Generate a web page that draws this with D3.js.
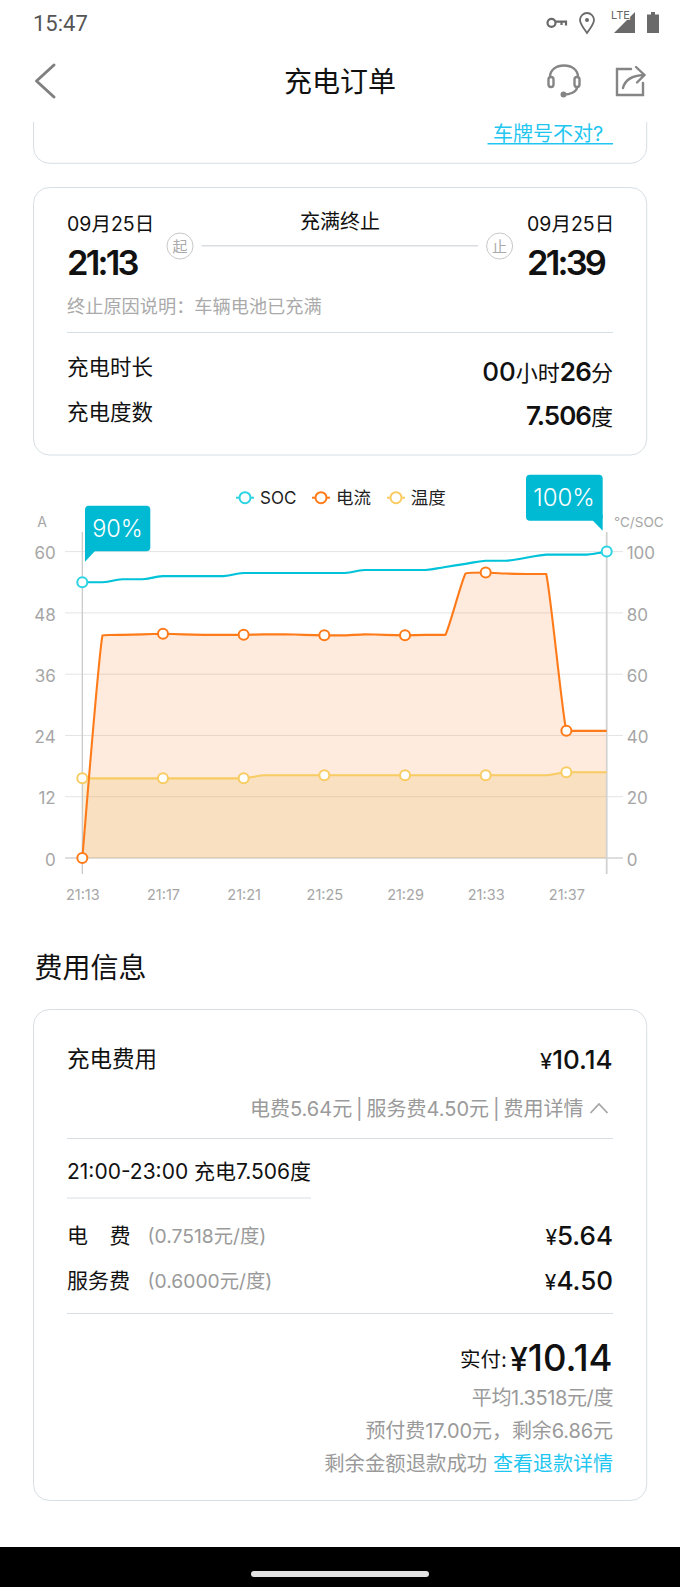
<!DOCTYPE html>
<html lang="zh"><head><meta charset="utf-8">
<script src="https://cdn.jsdelivr.net/npm/d3@7/dist/d3.min.js"></script>
<style>html,body{margin:0;padding:0;background:#fff;overflow:hidden}svg{display:block}
text{font-family:"Inter","Noto Sans CJK SC",sans-serif}</style></head><body>
<script>
// ---- chart data, one value per minute from 21:13 to 21:39 ----
const minutes = ['21:13','21:14','21:15','21:16','21:17','21:18','21:19','21:20','21:21','21:22','21:23','21:24','21:25','21:26','21:27','21:28','21:29','21:30','21:31','21:32','21:33','21:34','21:35','21:36','21:37','21:38','21:39'];
const current = [0,43.6,43.7,43.8,43.9,43.8,43.7,43.7,43.7,43.8,43.8,43.7,43.6,43.6,43.8,43.7,43.6,43.7,43.7,55.7,55.9,55.7,55.6,55.6,24.9,24.9,24.9];
const temperature = [26,26,26,26,26,26,26,26,26,27,27,27,27,27,27,27,27,27,27,27,27,27,27,27,28,28,28];
const soc = [90,90,91,91,92,92,92,92,93,93,93,93,93,93,94,94,94,94,95,96,97,97,98,99,99,99,100];
const xTickLabels = ['21:13','21:17','21:21','21:25','21:29','21:33','21:37'];
const leftTicks = [0,12,24,36,48,60];
const rightTicks = [0,20,40,60,80,100];
const legendNames = ['SOC','电流','温度'];
const socBadges = ['90%','100%'];

const svg = d3.select('body').append('svg').attr('width',680).attr('height',1587).attr('viewBox','0 0 680 1587');
const GREY='#9a9a9a', LINE='#d6dfe4', BLUE='#1fc6f0';

function txt(x,y,anchor,parts,spacing){
  const t=svg.append('text').attr('x',x).attr('y',y).attr('text-anchor',anchor);
  parts.forEach(p=>{
    const s=t.append('tspan').text(p[0]).attr('font-size',p[1]).attr('font-weight',p[2]||400).attr('fill',p[3]||'#111');
    if(p[4]!==undefined) s.attr('letter-spacing',p[4]);
  });
  if(spacing) t.attr('letter-spacing',spacing);
  return t;
}
function hline(x1,x2,y){svg.append('line').attr('x1',x1).attr('x2',x2).attr('y1',y).attr('y2',y).attr('stroke',LINE).attr('stroke-width',1);}
function card(y1,y2){svg.append('rect').attr('x',33.5).attr('y',y1).attr('width',613.2).attr('height',y2-y1).attr('rx',16).attr('fill','#fff').attr('stroke',LINE).attr('stroke-width',1);}

// ---- status bar ----
txt(33,31,'start',[['15:47',22,400,'#555']]).attr('style','font-family:Roboto');
const ic=svg.append('g').attr('fill','none').attr('stroke','#6a6a6a');
ic.append('circle').attr('cx',551.5).attr('cy',22.8).attr('r',4).attr('stroke-width',2.2);
ic.append('path').attr('d','M555.5 21.6H566V25.5M561.5 22V25').attr('stroke-width',2.2);
ic.append('path').attr('d','M587 33C583 27 580 24 580 20A7 7 0 0 1 594 20C594 24 591 27 587 33Z').attr('stroke-width',1.8);
ic.append('circle').attr('cx',587).attr('cy',20).attr('r',2).attr('fill','#6a6a6a').attr('stroke','none');
svg.append('path').attr('d','M635 12V33H614Z').attr('fill','#6a6a6a');
txt(611,18.5,'start',[['LTE',11,400,'#666']]).attr('stroke','#fff').attr('stroke-width',1.5).attr('paint-order','stroke');
svg.append('path').attr('d','M651 12H655V14.5H659V33H647V14.5H651Z').attr('fill','#6a6a6a');

// ---- nav bar ----
svg.append('path').attr('d','M54 65L36.5 81L54 97').attr('fill','none').attr('stroke','#808080').attr('stroke-width',3).attr('stroke-linejoin','round').attr('stroke-linecap','round');
txt(340,92,'middle',[['充电订单',28,400,'#111']]);
const nav=svg.append('g').attr('fill','none').attr('stroke','#858585').attr('stroke-width',2.4).attr('stroke-linecap','round');
nav.append('path').attr('d','M550 77C550 70 556 65.5 564 65.5C572 65.5 578 70 578 77');
nav.append('rect').attr('x',548.5).attr('y',77).attr('width',5).attr('height',10).attr('rx',2.5);
nav.append('rect').attr('x',574.5).attr('y',77).attr('width',5).attr('height',10).attr('rx',2.5);
nav.append('path').attr('d','M577 88C576 92 570 94.5 564 94.5');
nav.append('circle').attr('cx',563.5).attr('cy',94.5).attr('r',1.8).attr('fill','#858585');
nav.append('path').attr('d','M631 69H617V95H643V83');
nav.append('path').attr('d','M623 88C625 80 632 75.5 644 75M636 67L644.5 75L637 82.5');

// ---- first card, clipped by the nav bar ----
svg.append('path').attr('d','M33.5 122V147.3A16 16 0 0 0 49.5 163.3H630.7A16 16 0 0 0 646.7 147.3V122').attr('fill','none').attr('stroke',LINE);
txt(493,141,'start',[['车牌号不对?',20,400,BLUE]]);
svg.append('line').attr('x1',487.5).attr('x2',613).attr('y1',143.7).attr('y2',143.7).attr('stroke',BLUE).attr('stroke-width',1.6);

// ---- time card ----
card(187.5,455);
txt(67,231,'start',[['09月25日',19.5]]);
txt(527,231,'start',[['09月25日',19.5]]);
txt(67,275,'start',[['21:13',34.5,600]],-2.8);
txt(527,275,'start',[['21:39',34.5,600]],-2.8);
txt(340,229,'middle',[['充满终止',20]]);
[[180,'起'],[499.6,'止']].forEach(d=>{
  svg.append('circle').attr('cx',d[0]).attr('cy',246).attr('r',13).attr('fill','none').attr('stroke','#c8c8c8');
  txt(d[0],251.5,'middle',[[d[1],15,400,'#aaa']]);
});
svg.append('line').attr('x1',201.5).attr('x2',478).attr('y1',245.8).attr('y2',245.8).attr('stroke','#d9dde2').attr('stroke-width',1.5);
txt(67,313,'start',[['终止原因说明\uFF1A车辆电池已充满',18.2,400,'#aaa']]);
hline(67,613,332.5);
txt(67,375,'start',[['充电时长',21.5]]);
txt(67,419.5,'start',[['充电度数',21.5]]);
txt(613,381,'end',[['00',26,500],['小时',22],['26',26,600,'#111',-0.8],['分',22]]);
txt(613,424.5,'end',[['7.506',26,600,'#111',-1],['度',22]]);

// ---- chart ----
const xS=d3.scaleLinear().domain([0,minutes.length-1]).range([82.3,606.7]);
const yL=d3.scaleLinear().domain([0,60]).range([858,551.6]);
const yR=d3.scaleLinear().domain([0,100]).range([858,551.6]);

// smooth curve whose control points are clamped to each neighbour pair, so it rounds corners without overshooting
const clampedCurve = s => context => {
  const pts=[];
  return {
    lineStart(){pts.length=0;},
    point(x,y){pts.push([+x,+y]);},
    lineEnd(){
      const n=pts.length;
      const cl=(v,a,b)=>Math.max(Math.min(a,b),Math.min(Math.max(a,b),v));
      const ctrl=pts.map((p,i)=>{
        const a=pts[Math.max(i-1,0)], b=pts[Math.min(i+1,n-1)];
        const vx=(b[0]-a[0])*s, vy=(b[1]-a[1])*s;
        const lp=Math.hypot(p[0]-a[0],p[1]-a[1]), ln=Math.hypot(p[0]-b[0],p[1]-b[1]);
        const r=(lp+ln)?ln/(lp+ln):.5;
        return {nx:cl(p[0]+vx*r,p[0],b[0]),ny:cl(p[1]+vy*r,p[1],b[1]),
                px:cl(p[0]-vx*(1-r),p[0],a[0]),py:cl(p[1]-vy*(1-r),p[1],a[1])};
      });
      pts.forEach((p,i)=>{
        if(i===0){ context.moveTo(p[0],p[1]); return; }
        context.bezierCurveTo(ctrl[i-1].nx,ctrl[i-1].ny,ctrl[i].px,ctrl[i].py,p[0],p[1]);
      });
    }
  };
};

// grid lines and axis labels via d3 axes
const gridG=svg.append('g');
gridG.selectAll('line').data(leftTicks).join('line')
  .attr('x1',65).attr('x2',623).attr('y1',d=>yL(d)).attr('y2',d=>yL(d))
  .attr('stroke',d=>d===0?'#bdbdbd':'#e4e4e4').attr('stroke-width',1);
function styleAxis(g,anchor){
  g.select('.domain').remove(); g.selectAll('.tick line').remove();
  g.selectAll('text').attr('fill','#a6a6a6').attr('font-size',17).attr('text-anchor',anchor).attr('dy','0.42em');
}
svg.append('g').attr('transform','translate(55.7,0)').call(d3.axisLeft(yL).tickValues(leftTicks).tickSize(0).tickPadding(0)).call(g=>styleAxis(g,'end')).attr('font-family',null);
svg.append('g').attr('transform','translate(626.7,0)').call(d3.axisRight(yR).tickValues(rightTicks).tickSize(0).tickPadding(0)).call(g=>styleAxis(g,'start')).attr('font-family',null);
svg.append('g').attr('transform','translate(0,895)').call(d3.axisBottom(xS).tickValues(xTickLabels.map(l=>minutes.indexOf(l))).tickFormat(i=>minutes[i]).tickSize(0).tickPadding(0))
  .call(g=>{g.select('.domain').remove();g.selectAll('.tick line').remove();g.selectAll('text').attr('fill','#a6a6a6').attr('font-size',14.5).attr('dy','0.36em').attr('y',0);}).attr('font-family',null);
txt(42,526.5,'middle',[['A',14,400,'#a6a6a6']]);
txt(614,526.5,'start',[['°C/SOC',13.5,400,'#a6a6a6']]);

const ORANGE='#FF7B1A', YELLOW='#F8CC62', CYAN='#00C2D9', CYANM='#2CD3E3';
const lineCurrent=d3.line().x((d,i)=>xS(i)).y(d=>yL(d)).curve(clampedCurve(.12));
const lineTemp=d3.line().x((d,i)=>xS(i)).y(d=>yR(d)).curve(clampedCurve(.4));
const lineSoc=d3.line().x((d,i)=>xS(i)).y(d=>yR(d)).curve(clampedCurve(.5));

// fills follow the curved lines and close along the zero line
function fillUnder(lineGen,vals,color,op){
  svg.append('path').attr('d',lineGen(vals)+`L${xS(vals.length-1)},${yL(0)}L${xS(0)},${yL(0)}Z`).attr('fill',color).attr('fill-opacity',op);
}
fillUnder(lineCurrent,current,ORANGE,.15);
fillUnder(lineTemp,temperature,'#E1BE64',.23);

// vertical axes on top of the fills
svg.append('line').attr('x1',xS(0)).attr('x2',xS(0)).attr('y1',532).attr('y2',874).attr('stroke','#c6c6c6').attr('stroke-width',1.2);
svg.append('line').attr('x1',xS(26)).attr('x2',xS(26)).attr('y1',532).attr('y2',874).attr('stroke','#d2d2d2').attr('stroke-width',1.8);

svg.append('path').attr('d',lineTemp(temperature)).attr('fill','none').attr('stroke',YELLOW).attr('stroke-width',2.1);
svg.append('path').attr('d',lineCurrent(current)).attr('fill','none').attr('stroke',ORANGE).attr('stroke-width',2.1);
svg.append('path').attr('d',lineSoc(soc)).attr('fill','none').attr('stroke',CYAN).attr('stroke-width',2.1);

const markIdx=xTickLabels.map(l=>minutes.indexOf(l));
function marks(idx,vals,scale,color){
  svg.append('g').selectAll('circle').data(idx).join('circle')
    .attr('cx',i=>xS(i)).attr('cy',i=>scale(vals[i])).attr('r',5)
    .attr('fill','#fff').attr('stroke',color).attr('stroke-width',2);
}
marks(markIdx,temperature,yR,YELLOW);
marks(markIdx,current,yL,ORANGE);
marks([0,soc.length-1],soc,yR,CYANM);

// legend
[[245,260,CYANM],[321,336,ORANGE],[396,410.7,YELLOW]].forEach((d,i)=>{
  svg.append('line').attr('x1',d[0]-9).attr('x2',d[0]+9).attr('y1',497.7).attr('y2',497.7).attr('stroke',d[2]).attr('stroke-width',2);
  svg.append('circle').attr('cx',d[0]).attr('cy',497.7).attr('r',5.5).attr('fill','#fff').attr('stroke',d[2]).attr('stroke-width',2);
  txt(d[1],504,'start',[[legendNames[i],i?17.5:17,400,'#222']]);
});

// SOC badges
const TEAL='#00BAD3';
function badge(x1,y1,x2,y2,tail,label,cx,cy,size){
  svg.append('rect').attr('x',x1).attr('y',y1).attr('width',x2-x1).attr('height',y2-y1).attr('rx',4).attr('fill',TEAL);
  svg.append('path').attr('d',tail).attr('fill',TEAL);
  txt(cx,cy,'middle',[[label,size,300,'#fff']]);
}
badge(85,505.7,150.3,551.3,'M85 546V561.7L95 551V546Z',socBadges[0],117.5,536.5,23.5);
badge(526,474.7,602.7,520.7,'M602.7 515V530.7L593 520.7V515Z',socBadges[1],564,506,24);

// ---- fee section ----
txt(34.5,978,'start',[['费用信息',28,400,'#111']]);
card(1009.5,1500.5);
txt(67,1067,'start',[['充电费用',22.5]]);
txt(612.5,1068.5,'end',[['¥',22],['10.14',26,500]]);
txt(583.5,1115.5,'end',[['电费5.64元 | 服务费4.50元 | 费用详情',20,400,GREY]]).attr('word-spacing',-1.75);
svg.append('path').attr('d','M590.5 1113L599 1104L607.5 1113').attr('fill','none').attr('stroke','#a6a6a6').attr('stroke-width',1.8);
hline(67,613,1138.5);
txt(67,1179,'start',[['21:00-23:00 充电7.506度',21]]);
hline(67,311,1198);
txt(67,1243,'start',[['电',21]]);
txt(109.5,1243,'start',[['费',21]]);
txt(147.5,1243,'start',[['(0.7518元/度)',19.3,400,GREY]]);
txt(613,1245,'end',[['¥',21],['5.64',26,500]]);
txt(67,1287.5,'start',[['服务费',21]]);
txt(147.5,1287.5,'start',[['(0.6000元/度)',19.3,400,GREY]]);
txt(613,1289.5,'end',[['¥',21],['4.50',26,500]]);
hline(67,613,1313.5);
txt(460,1367,'start',[['实付:',20.5]]);
txt(612.5,1371,'end',[['¥',32,500],['10.14',36.5,500]]);
txt(613,1404.5,'end',[['平均1.3518元/度',20,400,GREY]],-0.4);
txt(613,1438,'end',[['预付费17.00元\uFF0C剩余6.86元',20,400,GREY]],-0.1);
txt(613,1470.5,'end',[['剩余金额退款成功 ',20.4,400,GREY],['查看退款详情',20,400,BLUE]]);

// ---- nav gesture bar ----
svg.append('rect').attr('x',0).attr('y',1547).attr('width',680).attr('height',40).attr('fill','#000');
svg.append('rect').attr('x',251).attr('y',1571).attr('width',178).attr('height',6).attr('rx',3).attr('fill','#e2e2e2');
</script></body></html>
